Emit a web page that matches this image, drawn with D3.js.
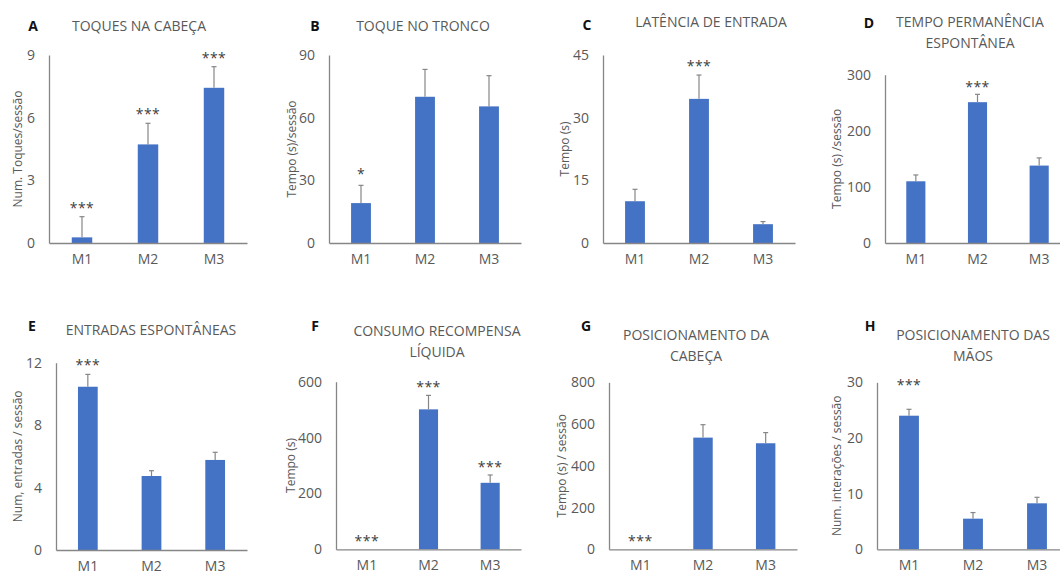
<!DOCTYPE html>
<html>
<head>
<meta charset="utf-8">
<script src="https://cdn.jsdelivr.net/npm/d3@7"></script>
<style>
  html, body { margin: 0; padding: 0; background: #fff; }
  svg { display: block; font-family: "Open Sans", "Noto Sans", sans-serif; }
</style>
</head>
<body>
<svg id="chart" width="1060" height="575"></svg>
<script>
// Groups shown on every panel
const groups = ["M1", "M2", "M3"];

// Panel letters, titles (one entry per title line) and y-axis labels
const panelLetters = ["A", "B", "C", "D", "E", "F", "G", "H"];
const panelTitles = [
  ["TOQUES NA CABEÇA"],
  ["TOQUE NO TRONCO"],
  ["LATÊNCIA DE ENTRADA"],
  ["TEMPO PERMANÊNCIA", "ESPONTÂNEA"],
  ["ENTRADAS ESPONTÂNEAS"],
  ["CONSUMO RECOMPENSA", "LÍQUIDA"],
  ["POSICIONAMENTO DA", "CABEÇA"],
  ["POSICIONAMENTO DAS", "MÃOS"]
];
const yLabels = [
  "Num. Toques/sessão",
  "Tempo (s)/sessão",
  "Tempo (s)",
  "Tempo (s) /sessão",
  "Num, entradas / sessão",
  "Tempo (s)",
  "Tempo (s) / sessão",
  "Num. interações / sessão"
];

// y-axis tick values per panel (last one is the axis maximum)
const yTicks = [
  [0, 3, 6, 9],
  [0, 30, 60, 90],
  [0, 15, 30, 45],
  [0, 100, 200, 300],
  [0, 4, 8, 12],
  [0, 200, 400, 600],
  [0, 200, 400, 600, 800],
  [0, 10, 20, 30]
];

// Means (M1, M2, M3) and upper error (SEM) per panel
const means = [
  [0.27, 4.72, 7.43],
  [19.1, 70.0, 65.4],
  [10.0, 34.5, 4.5],
  [110, 251, 138],
  [10.46, 4.74, 5.77],
  [0, 501, 238],
  [0, 535, 508],
  [24.0, 5.5, 8.26]
];
const errors = [
  [0.99, 1.01, 1.01],
  [8.5, 13.1, 14.7],
  [2.85, 5.7, 0.63],
  [11.3, 14, 13.7],
  [0.79, 0.34, 0.49],
  [0, 50, 28],
  [0, 62, 51],
  [1.15, 1.1, 1.08]
];

// Significance marks per group
const stars = [
  ["***", "***", "***"],
  ["*", "", ""],
  ["", "***", ""],
  ["", "***", ""],
  ["***", "", ""],
  ["***", "***", "***"],
  ["***", "", ""],
  ["***", "", ""]
];

// Plot frames: y-axis x, x-axis end, top of value range, baseline, and text anchors
const layout = [
  { x0: 49,  x1: 247,  yTop: 55,    yZero: 243,   lx: 33,  ly: 25,  tx: 139, ty: 25,  yl: 17,    starGap: 10 },
  { x0: 329, x1: 521,  yTop: 55,    yZero: 243,   lx: 315, ly: 25,  tx: 423, ty: 25,  yl: 291.5, starGap: 12 },
  { x0: 603, x1: 795,  yTop: 55,    yZero: 243,   lx: 587, ly: 24,  tx: 711, ty: 21,  yl: 564,   starGap: 10 },
  { x0: 885, x1: 1070, yTop: 74.7,  yZero: 243,   lx: 869, ly: 22,  tx: 970, ty: 21.5, yl: 836.5, starGap: 8 },
  { x0: 56,  x1: 247,  yTop: 362.7, yZero: 550,   lx: 32,  ly: 325, tx: 151, ty: 329, yl: 17,    starGap: 10 },
  { x0: 336, x1: 521,  yTop: 381.7, yZero: 549.3, lx: 315, ly: 325, tx: 437, ty: 330, yl: 290,   starGap: 9 },
  { x0: 609, x1: 797,  yTop: 382.3, yZero: 549.3, lx: 586, ly: 325, tx: 696, ty: 334, yl: 561.5, starGap: 9 },
  { x0: 877, x1: 1069, yTop: 382.3, yZero: 549.3, lx: 870, ly: 325, tx: 973, ty: 334, yl: 836.5, starGap: 25 }
];

const barColor = "#4472C4";
const textGray = "#595959";
const axisGray = "#868686";

const svg = d3.select("#chart");

panelLetters.forEach((letter, i) => {
  const L = layout[i];
  const ticks = yTicks[i];
  const g = svg.append("g");

  const x = d3.scaleBand().domain(groups).range([L.x0, L.x1]).paddingInner(0.69).paddingOuter(0.345);
  const y = d3.scaleLinear().domain([0, ticks[ticks.length - 1]]).range([L.yZero, L.yTop]);

  // bars
  g.selectAll("rect.bar").data(groups).join("rect")
    .attr("class", "bar")
    .attr("x", d => x(d))
    .attr("width", x.bandwidth())
    .attr("y", (d, j) => y(means[i][j]))
    .attr("height", (d, j) => y(0) - y(means[i][j]))
    .attr("fill", barColor);

  // upper error bars
  groups.forEach((d, j) => {
    const e = errors[i][j];
    if (!e) return;
    const cx = x(d) + x.bandwidth() / 2;
    const yTopErr = y(means[i][j] + e);
    g.append("line")
      .attr("x1", cx).attr("x2", cx)
      .attr("y1", y(means[i][j])).attr("y2", yTopErr)
      .attr("stroke", axisGray).attr("stroke-width", 1.2);
    g.append("line")
      .attr("x1", cx - 2.5).attr("x2", cx + 2.5)
      .attr("y1", yTopErr).attr("y2", yTopErr)
      .attr("stroke", axisGray).attr("stroke-width", 1.2);
  });

  // significance marks
  groups.forEach((d, j) => {
    const s = stars[i][j];
    if (!s) return;
    const cx = x(d) + x.bandwidth() / 2;
    const top = y(means[i][j] + errors[i][j]);
    g.append("text")
      .attr("x", cx)
      .attr("y", top - L.starGap + 6)
      .attr("text-anchor", "middle")
      .attr("font-size", 14)
      .attr("letter-spacing", 0.5)
      .attr("fill", "#404040")
      .text(s);
  });

  // y axis
  const yAxis = g.append("g")
    .attr("transform", `translate(${L.x0},0)`)
    .call(d3.axisLeft(y).tickValues(ticks).tickSize(0).tickSizeOuter(0).tickPadding(14));
  yAxis.select(".domain").attr("stroke", axisGray).attr("stroke-width", 1.3);
  yAxis.selectAll("text").attr("font-size", 14).attr("fill", textGray).attr("font-family", "Open Sans, sans-serif");

  // x axis
  const xAxis = g.append("g")
    .attr("transform", `translate(0,${L.yZero})`)
    .call(d3.axisBottom(x).tickSize(0).tickSizeOuter(0).tickPadding(11));
  xAxis.select(".domain").attr("stroke", axisGray).attr("stroke-width", 1.3);
  xAxis.selectAll("text").attr("font-size", 14).attr("fill", textGray).attr("font-family", "Open Sans, sans-serif");

  // y-axis label
  g.append("text")
    .attr("transform", `translate(${L.yl},${(L.yTop + L.yZero) / 2}) rotate(-90)`)
    .attr("text-anchor", "middle")
    .attr("dominant-baseline", "central")
    .attr("font-size", 12)
    .attr("fill", textGray)
    .text(yLabels[i]);

  // panel letter
  g.append("text")
    .attr("x", L.lx).attr("y", L.ly)
    .attr("text-anchor", "middle")
    .attr("dominant-baseline", "central")
    .attr("font-size", 14)
    .attr("font-weight", "bold")
    .attr("fill", "#111")
    .text(letter);

  // title
  panelTitles[i].forEach((line, k) => {
    g.append("text")
      .attr("x", L.tx).attr("y", L.ty + k * 21)
      .attr("text-anchor", "middle")
      .attr("dominant-baseline", "central")
      .attr("font-size", 14)
      .attr("fill", textGray)
      .text(line);
  });
});
</script>
</body>
</html>
